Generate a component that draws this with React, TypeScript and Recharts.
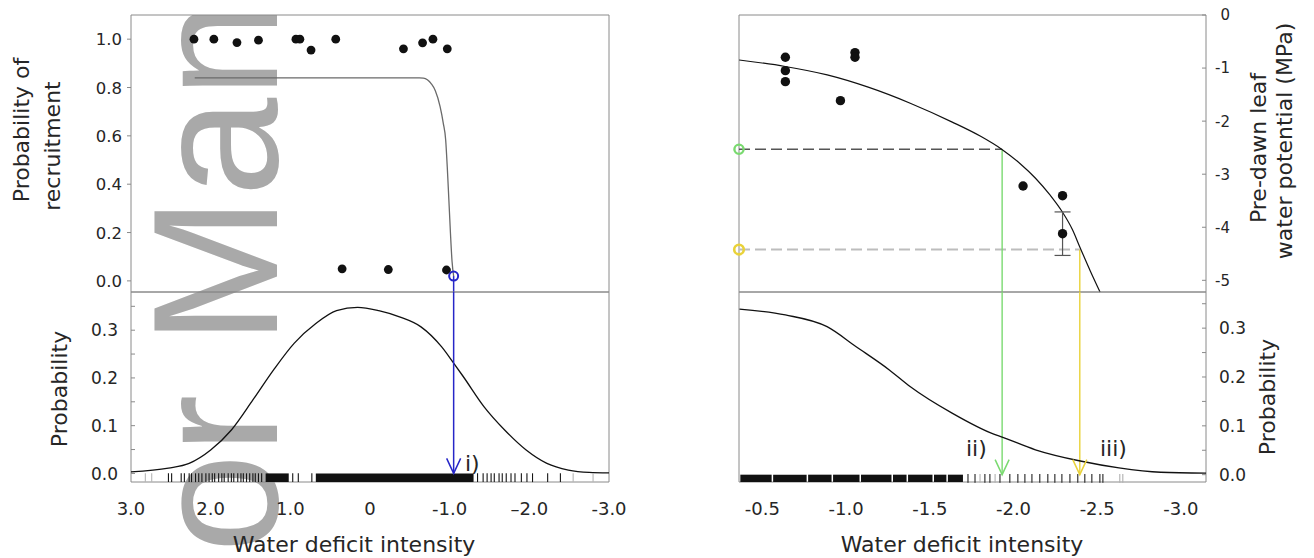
import React from 'react';
import {
  ComposedChart,
  Line,
  Scatter,
  XAxis,
  YAxis,
  ReferenceLine,
  ReferenceArea,
  ErrorBar,
} from 'recharts';

const W = 1314;
const H = 558;
const FONT = '"DejaVu Sans", Verdana, sans-serif';
const INK = '#262626';
const FRAME = '#8a8a8a';
const BLUE = '#2626c8';
const GREEN = '#7ada70';
const YELLOW = '#e9d23a';

// ---------------- left panels: water deficit intensity 3 -> -3
const leftXTicks = [3, 2, 1, 0, -1, -2, -3];
const leftXLabels = ['3.0', '2.0', '1.0', '0', '-1.0', '\u20132.0', '-3.0'];
const leftInnerXTicks = [2, 1, 0, -1, -2];

// top-left: probability of recruitment
const recruitYTicks = [0, 0.2, 0.4, 0.6, 0.8, 1.0];
const recruitYLabels = ['0.0', '0.2', '0.4', '0.6', '0.8', '1.0'];
const recruitObsX = [2.21, 1.96, 1.67, 1.4, 0.93, 0.88, 0.74, 0.43, 0.35, -0.23, -0.42, -0.66, -0.79, -0.97, -0.96];
const recruitObsY = [1.0, 1.0, 0.986, 0.996, 1.0, 1.0, 0.955, 1.0, 0.05, 0.047, 0.96, 0.985, 1.0, 0.96, 0.045];
const recruitFitX = [2.2, 1.0, 0.0, -0.5, -0.62, -0.67, -0.72, -0.77, -0.82, -0.88, -0.92, -0.95, -0.97, -0.99, -1.01, -1.03, -1.05];
const recruitFitY = [0.84, 0.84, 0.84, 0.84, 0.84, 0.839, 0.832, 0.815, 0.787, 0.721, 0.652, 0.583, 0.47, 0.335, 0.197, 0.08, 0.02];
const thresholdIX = -1.05;
const thresholdIY = 0.02;

// bottom-left: probability density of water deficit
const densYTicks = [0, 0.05, 0.1, 0.15, 0.2, 0.25, 0.3, 0.35];
const densYLabelTicks = [0, 0.1, 0.2, 0.3];
const densYLabels = ['0.0', '0.1', '0.2', '0.3'];
const densX = [3.0, 2.53, 2.27, 2.0, 1.74, 1.47, 1.21, 0.95, 0.68, 0.42, 0.155, -0.11, -0.37, -0.64, -0.9, -1.05, -1.17, -1.43, -1.69, -1.96, -2.22, -2.49, -2.75, -3.0];
const densY = [0.003, 0.011, 0.021, 0.049, 0.091, 0.154, 0.217, 0.273, 0.314, 0.341, 0.348, 0.341, 0.328, 0.307, 0.265, 0.231, 0.203, 0.14, 0.091, 0.049, 0.021, 0.007, 0.002, 0.001];
const leftRugX = [2.53, 2.49, 2.37, 2.33, 2.27, 2.24, 2.19, 2.15, 2.11, 2.06, 2.02, 1.98, 1.95, 1.9, 1.86, 1.83, 1.78, 1.74, 1.71, 1.66, 1.62, 1.59, 1.55, 1.51, 1.47, 1.44, 1.4, 1.36, 0.97, 0.9, 0.73, -1.35, -1.42, -1.47, -1.52, -1.56, -1.62, -1.66, -1.71, -1.77, -1.82, -1.9, -1.97, -2.04, -2.23, -2.39];
const leftRugLightX = [2.82, 2.74, -2.55, -2.8];
const leftRugBandFrom = [1.31, 0.68];
const leftRugBandTo = [1.02, -1.3];

// ---------------- right panels: water deficit intensity -0.36 -> -3.15
const rightXTicks = [-0.5, -1, -1.5, -2, -2.5, -3];
const rightXLabels = ['-0.5', '-1.0', '-1.5', '-2.0', '-2.5', '-3.0'];

// top-right: pre-dawn leaf water potential
const psiYTicks = [0, -1, -2, -3, -4, -5];
const psiYLabels = ['0', '-1', '-2', '-3', '-4', '-5'];
const psiQuarterTicks = [1, 2, 3];
const psiObsX = [-0.637, -0.637, -0.637, -0.966, -1.053, -1.053, -2.057, -2.293];
const psiObsY = [-0.797, -1.049, -1.256, -1.614, -0.709, -0.797, -3.222, -3.405];
const psiErrX = [-2.293];
const psiErrY = [-4.121];
const psiErrSize = [0.41];
const psiFitX = [-0.361, -0.636, -0.887, -1.132, -1.383, -1.634, -1.801, -1.933, -2.04, -2.13, -2.219, -2.291, -2.351, -2.398, -2.458, -2.517];
const psiFitY = [-0.848, -0.97, -1.129, -1.36, -1.662, -2.018, -2.282, -2.538, -2.802, -3.071, -3.396, -3.708, -4.038, -4.385, -4.818, -5.22];
const thresholdIIX = -1.932;
const thresholdIIY = -2.53;
const thresholdIIIX = -2.396;
const thresholdIIIY = -4.42;

// bottom-right: probability
const probYTicks = [0, 0.05, 0.1, 0.15, 0.2, 0.25, 0.3, 0.35];
const probYLabelTicks = [0, 0.1, 0.2, 0.3];
const probYLabels = ['0.0', '0.1', '0.2', '0.3'];
const probX = [-0.363, -0.637, -0.886, -1.06, -1.26, -1.384, -1.633, -1.882, -1.932, -2.131, -2.399, -2.63, -2.879, -3.15];
const probY = [0.339, 0.327, 0.303, 0.262, 0.214, 0.18, 0.126, 0.083, 0.077, 0.051, 0.028, 0.014, 0.005, 0.003];
const rightRugX = [-1.728, -1.77, -1.829, -1.859, -1.919, -1.978, -2.026, -2.068, -2.11, -2.157, -2.205, -2.247, -2.289, -2.337, -2.384, -2.426, -2.468, -2.516, -2.534];
const rightRugLightX = [-1.8, -1.89, -2.635, -2.653];
const rightRugBandFrom = [-0.368, -0.564, -0.773, -0.922, -1.089, -1.28, -1.37, -1.525, -1.608];
const rightRugBandTo = [-0.555, -0.764, -0.913, -1.08, -1.271, -1.361, -1.516, -1.599, -1.698];

// ---------------- axis ranges
const LX = [-3, 3];
const LT_Y = [-0.046, 1.1];
const LB_Y = [-0.018, 0.38];
const RX = [-3.15, -0.36];
const RT_Y = [-5.22, 0];
const RB_Y = [-0.015, 0.374];

const zip = (xs: number[], ys: number[]) => xs.map((x, i) => ({ x, y: ys[i] }));
const atY = (xs: number[], y: number) => xs.map((x) => ({ x, y }));

type TickOpts = { values: number[]; labels: string[]; anchor: 'start' | 'middle' | 'end'; dx?: number; dy?: number; size: number };
const makeTick = (o: TickOpts) => (p: any) => {
  const v = p?.payload?.value;
  const i = o.values.findIndex((t) => Math.abs(t - v) < 1e-9);
  if (i < 0) return <g />;
  return (
    <text x={p.x + (o.dx || 0)} y={p.y + (o.dy || 0)} textAnchor={o.anchor} fontFamily={FONT} fontSize={o.size} fill={INK}>
      {o.labels[i]}
    </text>
  );
};

const dotShape = (r: number) => (p: any) => <circle cx={p.cx} cy={p.cy} r={r} fill="#111" />;
const ringShape = (color: string, r: number, w: number) => (p: any) => (
  <circle cx={p.cx} cy={p.cy} r={r} fill="none" stroke={color} strokeWidth={w} />
);
const rugShape = (color: string) => (p: any) => (
  <line x1={p.cx} x2={p.cx} y1={p.cy - 4.4} y2={p.cy + 4.4} stroke={color} strokeWidth={1.1} />
);
const arrowShape = (color: string) => (p: any) => (
  <path d={`M${p.cx - 7},${p.cy - 15} L${p.cx},${p.cy} L${p.cx + 7},${p.cy - 15}`} fill="none" stroke={color} strokeWidth={1.5} />
);

const abs: React.CSSProperties = { position: 'absolute', left: 0, top: 0 };

function LeftTop() {
  return (
    <div style={abs}>
      <ComposedChart width={W} height={H} margin={{ top: 15, right: W - 609, bottom: H - 292 - 1, left: 130 }}>
        <XAxis dataKey="x" type="number" domain={LX} reversed ticks={leftInnerXTicks} interval={0} height={1} axisLine={false} tick={false} tickSize={-5} stroke={FRAME} />
        <YAxis
          dataKey="y" type="number" domain={LT_Y} ticks={recruitYTicks} interval={0} width={1}
          axisLine={false} tickSize={4} tickMargin={5} stroke={FRAME}
          tick={makeTick({ values: recruitYTicks, labels: recruitYLabels, anchor: 'end', dy: 6, size: 16.5 })}
        />
        <ReferenceArea x1={LX[0]} x2={LX[1]} y1={LT_Y[0]} y2={LT_Y[1]} fill="none" stroke={FRAME} strokeWidth={1} ifOverflow="visible" />
        <Line data={zip(recruitFitX, recruitFitY)} dataKey="y" type="monotone" stroke="#6a6a6a" strokeWidth={1.3} dot={false} isAnimationActive={false} />
        <Scatter data={zip(recruitObsX, recruitObsY)} shape={dotShape(4.4)} isAnimationActive={false} />
        <ReferenceLine segment={[{ x: thresholdIX, y: thresholdIY }, { x: thresholdIX, y: LT_Y[0] }]} stroke={BLUE} strokeWidth={1.5} ifOverflow="visible" />
        <Scatter data={[{ x: thresholdIX, y: thresholdIY }]} shape={ringShape(BLUE, 4.5, 2)} isAnimationActive={false} />
      </ComposedChart>
    </div>
  );
}

function LeftBottom() {
  return (
    <div style={abs}>
      <ComposedChart width={W} height={H} margin={{ top: 292, right: W - 609, bottom: H - 482 - 1, left: 130 }}>
        <XAxis
          dataKey="x" type="number" domain={LX} reversed ticks={leftXTicks} interval={0} height={1}
          axisLine={false} tickLine={false} tickSize={0} tickMargin={0}
          tick={makeTick({ values: leftXTicks, labels: leftXLabels, anchor: 'middle', dy: 33, size: 18 })}
        />
        <YAxis
          dataKey="y" type="number" domain={LB_Y} ticks={densYTicks} interval={0} width={1}
          axisLine={false} tickSize={-4} tickMargin={17} stroke={FRAME}
          tick={makeTick({ values: densYLabelTicks, labels: densYLabels, anchor: 'end', dy: 6.2, size: 17 })}
        />
        <ReferenceArea x1={LX[0]} x2={LX[1]} y1={LB_Y[0]} y2={LB_Y[1]} fill="none" stroke={FRAME} strokeWidth={1} ifOverflow="visible" />
        {leftRugBandFrom.map((a, i) => (
          <ReferenceArea key={'lb' + i} x1={a} x2={leftRugBandTo[i]} y1={LB_Y[0]} y2={0} fill="#111" fillOpacity={1} stroke="none" ifOverflow="visible" />
        ))}
        <Scatter data={atY(leftRugLightX, -0.009)} shape={rugShape('#b5b5b5')} isAnimationActive={false} />
        <Scatter data={atY(leftRugX, -0.009)} shape={rugShape('#151515')} isAnimationActive={false} />
        <Line data={zip(densX, densY)} dataKey="y" type="monotone" stroke="#111" strokeWidth={1.3} dot={false} isAnimationActive={false} />
        <ReferenceLine segment={[{ x: thresholdIX, y: LB_Y[1] }, { x: thresholdIX, y: 0 }]} stroke={BLUE} strokeWidth={1.5} ifOverflow="visible" />
        <Scatter data={[{ x: thresholdIX, y: 0 }]} shape={arrowShape(BLUE)} isAnimationActive={false} />
      </ComposedChart>
    </div>
  );
}

function RightTop() {
  return (
    <div style={abs}>
      <ComposedChart width={W} height={H} margin={{ top: 15, right: W - 1206 - 1, bottom: H - 292 - 1, left: 739 }}>
        <XAxis dataKey="x" type="number" domain={RX} reversed hide height={0} />
        <XAxis xAxisId="q" type="number" domain={[0, 4]} ticks={psiQuarterTicks} interval={0} height={1} axisLine={false} tick={false} tickSize={-5} stroke={FRAME} />
        <YAxis
          dataKey="y" type="number" orientation="right" domain={RT_Y} ticks={psiYTicks} interval={0} width={1}
          axisLine={false} tickSize={-4} tickMargin={17} stroke={FRAME}
          tick={makeTick({ values: psiYTicks, labels: psiYLabels, anchor: 'end', dx: 11, dy: 5.4, size: 15 })}
        />
        <ReferenceArea x1={RX[0]} x2={RX[1]} y1={RT_Y[0]} y2={RT_Y[1]} fill="none" stroke={FRAME} strokeWidth={1} ifOverflow="visible" />
        <ReferenceLine segment={[{ x: RX[1], y: thresholdIIY }, { x: thresholdIIX, y: thresholdIIY }]} stroke="#555" strokeWidth={1.5} strokeDasharray="11 5" ifOverflow="visible" />
        <ReferenceLine segment={[{ x: RX[1], y: thresholdIIIY }, { x: thresholdIIIX, y: thresholdIIIY }]} stroke="#bdbdbd" strokeWidth={2} strokeDasharray="11 5" ifOverflow="visible" />
        <ReferenceLine segment={[{ x: thresholdIIX, y: thresholdIIY }, { x: thresholdIIX, y: RT_Y[0] }]} stroke={GREEN} strokeWidth={1.4} ifOverflow="visible" />
        <ReferenceLine segment={[{ x: thresholdIIIX, y: thresholdIIIY }, { x: thresholdIIIX, y: RT_Y[0] }]} stroke={YELLOW} strokeWidth={1.4} ifOverflow="visible" />
        <Line data={zip(psiFitX, psiFitY)} dataKey="y" type="monotone" stroke="#111" strokeWidth={1.2} dot={false} isAnimationActive={false} />
        <Scatter data={zip(psiObsX, psiObsY)} shape={dotShape(4.7)} isAnimationActive={false} />
        <Scatter data={psiErrX.map((x, i) => ({ x, y: psiErrY[i], err: psiErrSize[i] }))} shape={dotShape(4.7)} isAnimationActive={false}>
          <ErrorBar dataKey="err" direction="y" width={8} stroke="#555" strokeWidth={1.2} />
        </Scatter>
        <Scatter data={[{ x: RX[1], y: thresholdIIY }]} shape={ringShape(GREEN, 4.6, 2.4)} isAnimationActive={false} />
        <Scatter data={[{ x: RX[1], y: thresholdIIIY }]} shape={ringShape(YELLOW, 4.8, 2.6)} isAnimationActive={false} />
      </ComposedChart>
    </div>
  );
}

function RightBottom() {
  return (
    <div style={abs}>
      <ComposedChart width={W} height={H} margin={{ top: 292, right: W - 1206 - 1, bottom: H - 482 - 1, left: 739 }}>
        <XAxis
          dataKey="x" type="number" domain={RX} reversed ticks={rightXTicks} interval={0} height={1}
          axisLine={false} tickLine={false} tickSize={0} tickMargin={0}
          tick={makeTick({ values: rightXTicks, labels: rightXLabels, anchor: 'middle', dy: 33, size: 18 })}
        />
        <YAxis
          dataKey="y" type="number" orientation="right" domain={RB_Y} ticks={probYTicks} interval={0} width={1}
          axisLine={false} tickSize={-4} tickMargin={17} stroke={FRAME}
          tick={makeTick({ values: probYLabelTicks, labels: probYLabels, anchor: 'start', dy: 6.2, size: 17 })}
        />
        <ReferenceArea x1={RX[0]} x2={RX[1]} y1={RB_Y[0]} y2={RB_Y[1]} fill="none" stroke={FRAME} strokeWidth={1} ifOverflow="visible" />
        {rightRugBandFrom.map((a, i) => (
          <ReferenceArea key={'rb' + i} x1={a} x2={rightRugBandTo[i]} y1={RB_Y[0]} y2={0} fill="#111" fillOpacity={1} stroke="none" ifOverflow="visible" />
        ))}
        <Scatter data={atY(rightRugLightX, -0.0075)} shape={rugShape('#b0b0b0')} isAnimationActive={false} />
        <Scatter data={atY(rightRugX, -0.0075)} shape={rugShape('#222')} isAnimationActive={false} />
        <ReferenceLine segment={[{ x: thresholdIIX, y: RB_Y[1] }, { x: thresholdIIX, y: 0 }]} stroke={GREEN} strokeWidth={1.4} ifOverflow="visible" />
        <ReferenceLine segment={[{ x: thresholdIIIX, y: RB_Y[1] }, { x: thresholdIIIX, y: 0 }]} stroke={YELLOW} strokeWidth={1.4} ifOverflow="visible" />
        <Line data={zip(probX, probY)} dataKey="y" type="monotone" stroke="#111" strokeWidth={1.3} dot={false} isAnimationActive={false} />
        <Scatter data={[{ x: thresholdIIX, y: 0 }]} shape={arrowShape(GREEN)} isAnimationActive={false} />
        <Scatter data={[{ x: thresholdIIIX, y: 0 }]} shape={arrowShape(YELLOW)} isAnimationActive={false} />
      </ComposedChart>
    </div>
  );
}

const rot = (x: number, y: number) => `translate(${x},${y}) rotate(-90)`;

export default function App() {
  const t = { fontFamily: FONT, fontSize: 22, fill: INK } as const;
  return (
    <div style={{ position: 'absolute', left: 0, top: 0, width: W, height: H, background: '#ffffff', overflow: 'hidden' }}>
      <svg width={W} height={H} style={abs}>
        <defs>
          <clipPath id="wmclip">
            <rect x={0} y={15} width={W} height={H - 15} />
          </clipPath>
        </defs>
        <g clipPath="url(#wmclip)">
          <text transform={rot(277, 919)} fontFamily='"Liberation Sans", Arial, sans-serif' fontSize={178} fill="#a9a9a9">
            Author Manuscript
          </text>
        </g>
      </svg>
      <LeftTop />
      <LeftBottom />
      <RightTop />
      <RightBottom />
      <svg width={W} height={H} style={{ ...abs, pointerEvents: 'none' }}>
        <text {...t} transform={rot(29, 130)} textAnchor="middle">Probability of</text>
        <text {...t} transform={rot(60, 146)} textAnchor="middle">recruitment</text>
        <text {...t} transform={rot(66.5, 389)} textAnchor="middle">Probability</text>
        <text {...t} transform={rot(1266, 148)} textAnchor="middle">Pre-dawn leaf</text>
        <text {...t} transform={rot(1292, 141)} textAnchor="middle">water potential (MPa)</text>
        <text {...t} transform={rot(1275, 397)} textAnchor="middle">Probability</text>
        <text {...t} x={354} y={552} textAnchor="middle">Water deficit intensity</text>
        <text {...t} x={962} y={552} textAnchor="middle">Water deficit intensity</text>
        <text {...t} x={465} y={471}>i)</text>
        <text {...t} x={966} y={456}>ii)</text>
        <text {...t} x={1100} y={456}>iii)</text>
      </svg>
    </div>
  );
}
